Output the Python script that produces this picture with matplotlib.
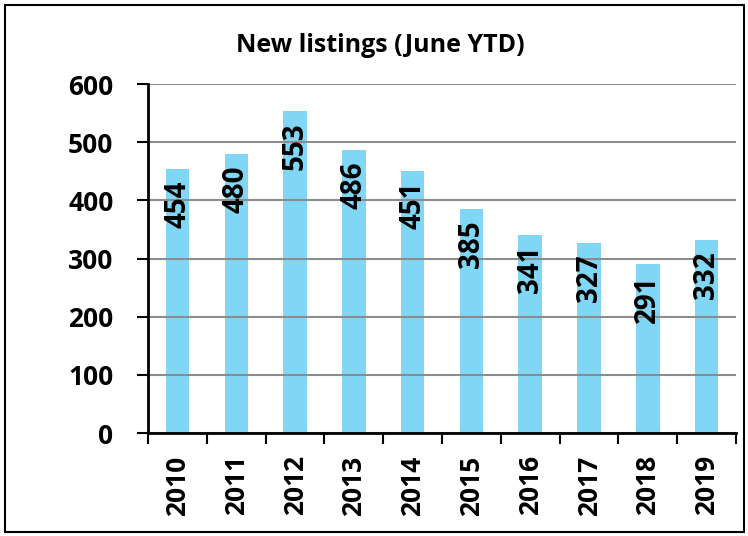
import matplotlib.pyplot as plt
from matplotlib.patches import Rectangle
import numpy as np

years = ['2010', '2011', '2012', '2013', '2014', '2015', '2016', '2017', '2018', '2019']
listings = [454, 480, 553, 486, 451, 385, 341, 327, 291, 332]

plt.rcParams['font.family'] = ['Open Sans', 'DejaVu Sans']
plt.rcParams['font.weight'] = 'bold'

fig = plt.figure(figsize=(7.48, 5.36), dpi=100)
ax = fig.add_axes([0.198, 0.192, 0.786, 0.651])

x = np.arange(len(years))
bars = ax.bar(x, listings, width=0.4, color='#7fd6f5', zorder=2)

for b, v in zip(bars, listings):
    ax.annotate(str(v), (b.get_x() + b.get_width() / 2, v),
                xytext=(0, -8), textcoords='offset points',
                rotation=90, ha='center', va='top',
                fontsize=20, fontweight='bold', zorder=4)

ax.set_xlim(-0.5, len(years) - 0.5)
ax.set_ylim(0, 600)
ax.set_yticks(range(0, 601, 100))
ax.yaxis.grid(True, color='#8c8c8c', linewidth=1.5, zorder=3)
ax.set_axisbelow(False)

ax.set_xticks(x)
ax.set_xticklabels(years, rotation=90, fontsize=19, fontweight='bold')
ax.set_xticks(np.arange(-0.5, len(years)), minor=True)
ax.tick_params(axis='x', which='major', length=0, pad=16)
ax.tick_params(axis='x', which='minor', length=8, width=1.5, direction='out')
ax.tick_params(axis='y', length=8, width=1.5, labelsize=19, pad=17)
for lbl in ax.get_yticklabels():
    lbl.set_fontweight('bold')

for s in ['top', 'right']:
    ax.spines[s].set_visible(False)
for s in ['left', 'bottom']:
    ax.spines[s].set_linewidth(2)
    ax.spines[s].set_zorder(5)

fig.text(0.508, 0.916, 'New listings (June YTD)', ha='center', va='center',
         fontsize=18, fontweight='bold')

fig.patches.append(Rectangle((0.007, 0.007), 0.988, 0.984, transform=fig.transFigure,
                             fill=False, edgecolor='black', linewidth=1.5))

fig.savefig('out.png', dpi=100)
